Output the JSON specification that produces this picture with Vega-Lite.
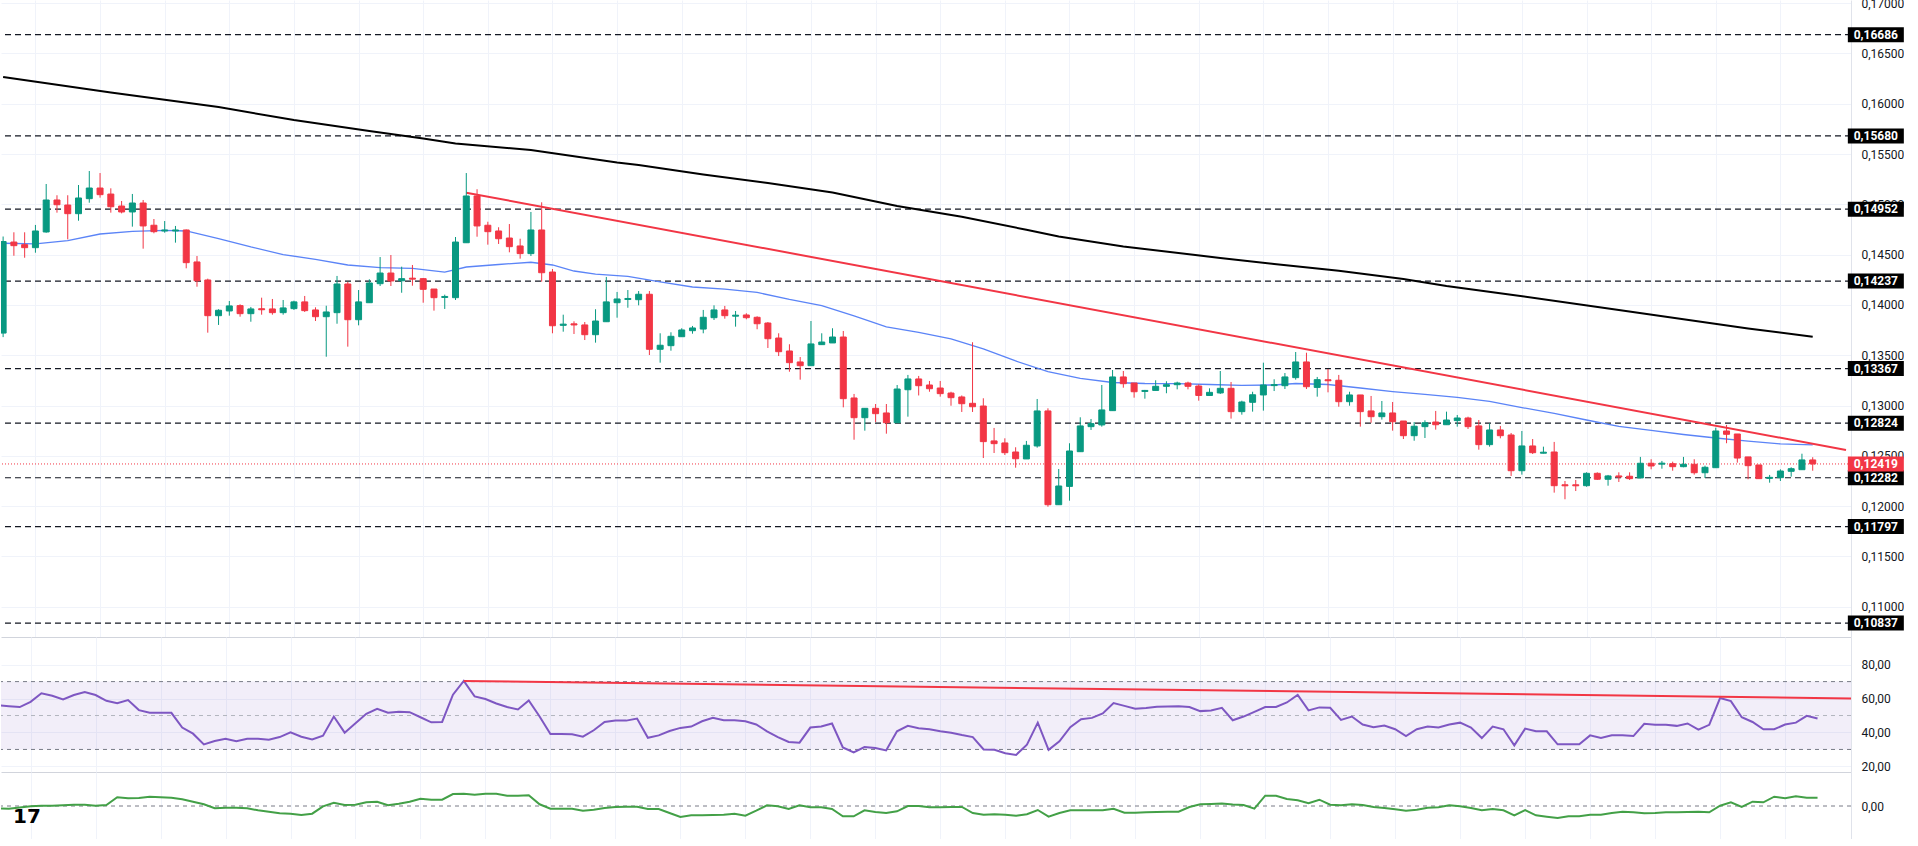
{
  "$schema": "https://vega.github.io/schema/vega-lite/v6.json",
  "description": "Daily candles with 50/200 MAs, support levels, RSI and an oscillator panel.",
  "padding": {"top": -3, "left": 0, "right": 0, "bottom": 0},
  "background": "white",
  "spacing": 0,
  "bounds": "flush",
  "config": {
    "view": {"stroke": null},
    "font": "Roboto",
    "axis": {"labelFont": "Roboto", "labelFontSize": 12, "labelColor": "#131722"}
  },
  "datasets": {
    "candles": [
      {"i":0,"o":0.1372,"h":0.1468,"l":0.1368,"c":0.1463,"r":56.1,"g":-2.3},
      {"i":1,"o":0.14625,"h":0.14722,"l":0.14489,"c":0.14589,"r":55.5,"g":-2.7},
      {"i":2,"o":0.14599,"h":0.14722,"l":0.14469,"c":0.14569,"r":55.0,"g":-1.5},
      {"i":3,"o":0.14569,"h":0.14795,"l":0.14519,"c":0.14735,"r":58.1,"g":-0.3},
      {"i":4,"o":0.14725,"h":0.15202,"l":0.14718,"c":0.15043,"r":63.1,"g":0.3},
      {"i":5,"o":0.15043,"h":0.1509,"l":0.14917,"c":0.14996,"r":61.7,"g":0.3},
      {"i":6,"o":0.14993,"h":0.1509,"l":0.14652,"c":0.14907,"r":59.5,"g":0.8},
      {"i":7,"o":0.14907,"h":0.15192,"l":0.14837,"c":0.15063,"r":62.1,"g":1.3},
      {"i":8,"o":0.15056,"h":0.15331,"l":0.15016,"c":0.15162,"r":63.9,"g":1.3},
      {"i":9,"o":0.15162,"h":0.15311,"l":0.15066,"c":0.15096,"r":62.1,"g":0.3},
      {"i":10,"o":0.15102,"h":0.15159,"l":0.14917,"c":0.14976,"r":58.7,"g":1.0},
      {"i":11,"o":0.14983,"h":0.15033,"l":0.1491,"c":0.14924,"r":57.3,"g":8.7},
      {"i":12,"o":0.14924,"h":0.15103,"l":0.14778,"c":0.15013,"r":59.1,"g":7.7},
      {"i":13,"o":0.15013,"h":0.15043,"l":0.14559,"c":0.14785,"r":53.2,"g":8.0},
      {"i":14,"o":0.14792,"h":0.14854,"l":0.14712,"c":0.14728,"r":51.6,"g":9.3},
      {"i":15,"o":0.14735,"h":0.14834,"l":0.14718,"c":0.14745,"r":51.6,"g":8.7},
      {"i":16,"o":0.14735,"h":0.14785,"l":0.14619,"c":0.14745,"r":51.6,"g":8.3},
      {"i":17,"o":0.14745,"h":0.1475,"l":0.14364,"c":0.1442,"r":42.9,"g":6.7},
      {"i":18,"o":0.14427,"h":0.14486,"l":0.14181,"c":0.1424,"r":39.3,"g":4.3},
      {"i":19,"o":0.14248,"h":0.14261,"l":0.13724,"c":0.13893,"r":33.0,"g":1.7},
      {"i":20,"o":0.13893,"h":0.13957,"l":0.13801,"c":0.13947,"r":35.0,"g":-2.3},
      {"i":21,"o":0.1394,"h":0.14039,"l":0.13893,"c":0.1399,"r":36.3,"g":-1.7},
      {"i":22,"o":0.13993,"h":0.14006,"l":0.13883,"c":0.13913,"r":34.8,"g":-1.7},
      {"i":23,"o":0.13913,"h":0.1398,"l":0.13833,"c":0.1396,"r":36.3,"g":-2.3},
      {"i":24,"o":0.13962,"h":0.14072,"l":0.13903,"c":0.13952,"r":36.3,"g":-4.3},
      {"i":25,"o":0.1396,"h":0.14059,"l":0.13903,"c":0.13923,"r":35.7,"g":-5.7},
      {"i":26,"o":0.13923,"h":0.14049,"l":0.13903,"c":0.1397,"r":37.3,"g":-7.3},
      {"i":27,"o":0.13963,"h":0.14042,"l":0.1395,"c":0.1403,"r":40.1,"g":-7.7},
      {"i":28,"o":0.1403,"h":0.14089,"l":0.1393,"c":0.13943,"r":37.5,"g":-9.0},
      {"i":29,"o":0.1395,"h":0.13976,"l":0.1384,"c":0.13883,"r":35.9,"g":-7.7},
      {"i":30,"o":0.13883,"h":0.13992,"l":0.13485,"c":0.1393,"r":38.1,"g":-0.3},
      {"i":31,"o":0.13923,"h":0.14288,"l":0.13813,"c":0.14208,"r":49.4,"g":3.3},
      {"i":32,"o":0.14208,"h":0.14228,"l":0.13585,"c":0.13853,"r":39.9,"g":1.0},
      {"i":33,"o":0.13853,"h":0.14148,"l":0.13797,"c":0.1403,"r":45.4,"g":1.3},
      {"i":34,"o":0.14022,"h":0.14255,"l":0.14022,"c":0.14218,"r":51.0,"g":3.7},
      {"i":35,"o":0.14211,"h":0.14476,"l":0.14188,"c":0.14317,"r":54.0,"g":4.3},
      {"i":36,"o":0.14317,"h":0.14496,"l":0.14188,"c":0.14238,"r":51.6,"g":0.7},
      {"i":37,"o":0.1424,"h":0.1438,"l":0.14121,"c":0.14261,"r":52.2,"g":2.3},
      {"i":38,"o":0.14266,"h":0.14397,"l":0.14191,"c":0.14256,"r":52.0,"g":4.3},
      {"i":39,"o":0.14261,"h":0.14268,"l":0.14022,"c":0.14155,"r":49.0,"g":7.3},
      {"i":40,"o":0.14158,"h":0.14158,"l":0.13943,"c":0.14072,"r":46.0,"g":6.3},
      {"i":41,"o":0.14074,"h":0.14102,"l":0.1396,"c":0.14084,"r":46.2,"g":6.3},
      {"i":42,"o":0.14072,"h":0.14675,"l":0.14049,"c":0.14625,"r":62.3,"g":12.0},
      {"i":43,"o":0.14618,"h":0.15311,"l":0.14618,"c":0.15083,"r":70.4,"g":12.3},
      {"i":44,"o":0.15083,"h":0.1515,"l":0.14678,"c":0.14785,"r":61.3,"g":11.3},
      {"i":45,"o":0.14792,"h":0.14827,"l":0.14599,"c":0.14728,"r":59.7,"g":12.3},
      {"i":46,"o":0.14735,"h":0.14772,"l":0.14606,"c":0.14658,"r":57.1,"g":12.3},
      {"i":47,"o":0.14665,"h":0.14804,"l":0.14523,"c":0.14579,"r":55.0,"g":10.3},
      {"i":48,"o":0.14586,"h":0.14658,"l":0.1446,"c":0.1451,"r":53.6,"g":10.3},
      {"i":49,"o":0.1451,"h":0.14924,"l":0.14486,"c":0.14745,"r":58.9,"g":10.7},
      {"i":50,"o":0.14745,"h":0.1502,"l":0.14231,"c":0.1432,"r":49.4,"g":1.7},
      {"i":51,"o":0.14327,"h":0.14357,"l":0.13718,"c":0.13793,"r":39.1,"g":-2.7},
      {"i":52,"o":0.13797,"h":0.13903,"l":0.13734,"c":0.13809,"r":39.1,"g":-2.7},
      {"i":53,"o":0.13812,"h":0.13837,"l":0.13711,"c":0.13801,"r":38.9,"g":-2.7},
      {"i":54,"o":0.13801,"h":0.1383,"l":0.13651,"c":0.13704,"r":37.5,"g":-4.7},
      {"i":55,"o":0.13704,"h":0.13957,"l":0.13625,"c":0.1384,"r":41.3,"g":-3.7},
      {"i":56,"o":0.13833,"h":0.14278,"l":0.13833,"c":0.1403,"r":46.2,"g":-2.0},
      {"i":57,"o":0.14022,"h":0.14129,"l":0.13873,"c":0.14059,"r":47.0,"g":-1.0},
      {"i":58,"o":0.14054,"h":0.14148,"l":0.13972,"c":0.14064,"r":47.0,"g":-0.7},
      {"i":59,"o":0.14052,"h":0.14138,"l":0.13996,"c":0.14106,"r":48.2,"g":-0.7},
      {"i":60,"o":0.14106,"h":0.14138,"l":0.13502,"c":0.13559,"r":36.9,"g":-3.0},
      {"i":61,"o":0.13559,"h":0.13718,"l":0.13426,"c":0.13599,"r":38.3,"g":-3.0},
      {"i":62,"o":0.13595,"h":0.13728,"l":0.13545,"c":0.13688,"r":40.9,"g":-7.0},
      {"i":63,"o":0.13684,"h":0.13768,"l":0.13684,"c":0.13751,"r":42.7,"g":-11.0},
      {"i":64,"o":0.13744,"h":0.13791,"l":0.13714,"c":0.13771,"r":43.5,"g":-9.3},
      {"i":65,"o":0.1376,"h":0.1395,"l":0.13718,"c":0.13877,"r":46.6,"g":-9.3},
      {"i":66,"o":0.13873,"h":0.13996,"l":0.1385,"c":0.1395,"r":48.6,"g":-9.0},
      {"i":67,"o":0.1395,"h":0.1399,"l":0.13863,"c":0.13893,"r":47.2,"g":-8.7},
      {"i":68,"o":0.13888,"h":0.1394,"l":0.13784,"c":0.13898,"r":47.2,"g":-7.7},
      {"i":69,"o":0.139,"h":0.13917,"l":0.13857,"c":0.13873,"r":46.6,"g":-9.7},
      {"i":70,"o":0.13877,"h":0.13887,"l":0.13758,"c":0.13813,"r":44.7,"g":-4.7},
      {"i":71,"o":0.1382,"h":0.1383,"l":0.13572,"c":0.13664,"r":40.7,"g":0.7},
      {"i":72,"o":0.13671,"h":0.13718,"l":0.13492,"c":0.13535,"r":37.3,"g":-0.3},
      {"i":73,"o":0.13542,"h":0.13609,"l":0.13336,"c":0.13426,"r":34.4,"g":-3.0},
      {"i":74,"o":0.13433,"h":0.13482,"l":0.13257,"c":0.13396,"r":34.0,"g":0.7},
      {"i":75,"o":0.13396,"h":0.1384,"l":0.13396,"c":0.13612,"r":42.9,"g":-1.3},
      {"i":76,"o":0.13605,"h":0.13718,"l":0.13605,"c":0.13631,"r":43.5,"g":-1.3},
      {"i":77,"o":0.13622,"h":0.13768,"l":0.13622,"c":0.13681,"r":45.3,"g":-3.0},
      {"i":78,"o":0.13681,"h":0.13741,"l":0.12982,"c":0.13068,"r":31.2,"g":-10.3},
      {"i":79,"o":0.13075,"h":0.13115,"l":0.1266,"c":0.12879,"r":28.2,"g":-10.3},
      {"i":80,"o":0.12879,"h":0.12972,"l":0.1275,"c":0.12972,"r":31.4,"g":-4.3},
      {"i":81,"o":0.12972,"h":0.13015,"l":0.12836,"c":0.12919,"r":30.8,"g":-6.0},
      {"i":82,"o":0.12926,"h":0.13015,"l":0.1272,"c":0.12829,"r":29.4,"g":-7.0},
      {"i":83,"o":0.12829,"h":0.13204,"l":0.12829,"c":0.13164,"r":40.7,"g":-5.3},
      {"i":84,"o":0.13157,"h":0.13304,"l":0.12889,"c":0.13264,"r":43.9,"g":0.0},
      {"i":85,"o":0.13264,"h":0.13294,"l":0.131,"c":0.13197,"r":42.5,"g":0.0},
      {"i":86,"o":0.13204,"h":0.13244,"l":0.13137,"c":0.13167,"r":41.9,"g":-1.3},
      {"i":87,"o":0.13174,"h":0.13244,"l":0.13088,"c":0.13118,"r":40.7,"g":-1.3},
      {"i":88,"o":0.13124,"h":0.13137,"l":0.12998,"c":0.13078,"r":39.9,"g":-1.0},
      {"i":89,"o":0.13085,"h":0.131,"l":0.12936,"c":0.13018,"r":38.5,"g":-1.0},
      {"i":90,"o":0.13022,"h":0.13629,"l":0.12936,"c":0.12988,"r":37.3,"g":-7.0},
      {"i":91,"o":0.12995,"h":0.13072,"l":0.12478,"c":0.12641,"r":30.0,"g":-8.7},
      {"i":92,"o":0.12648,"h":0.12777,"l":0.12528,"c":0.12621,"r":29.8,"g":-8.3},
      {"i":93,"o":0.12628,"h":0.12674,"l":0.12508,"c":0.12531,"r":27.8,"g":-8.7},
      {"i":94,"o":0.12538,"h":0.12585,"l":0.12382,"c":0.12471,"r":26.8,"g":-9.7},
      {"i":95,"o":0.12469,"h":0.12648,"l":0.12469,"c":0.12605,"r":32.8,"g":-8.3},
      {"i":96,"o":0.12598,"h":0.13065,"l":0.12581,"c":0.12946,"r":45.8,"g":-4.0},
      {"i":97,"o":0.12946,"h":0.12972,"l":0.11994,"c":0.12014,"r":29.8,"g":-10.7},
      {"i":98,"o":0.12014,"h":0.12369,"l":0.12014,"c":0.122,"r":34.8,"g":-7.0},
      {"i":99,"o":0.12196,"h":0.12625,"l":0.12054,"c":0.12548,"r":43.1,"g":-4.3},
      {"i":100,"o":0.12541,"h":0.12883,"l":0.12541,"c":0.12797,"r":47.8,"g":-4.3},
      {"i":101,"o":0.1279,"h":0.12866,"l":0.12757,"c":0.1282,"r":48.6,"g":-4.3},
      {"i":102,"o":0.12807,"h":0.13204,"l":0.1279,"c":0.12956,"r":51.2,"g":-4.3},
      {"i":103,"o":0.12949,"h":0.13353,"l":0.12949,"c":0.13284,"r":57.3,"g":-2.7},
      {"i":104,"o":0.13284,"h":0.13343,"l":0.13177,"c":0.13217,"r":55.7,"g":-6.7},
      {"i":105,"o":0.13224,"h":0.13224,"l":0.13078,"c":0.13137,"r":54.0,"g":-6.7},
      {"i":106,"o":0.1314,"h":0.13155,"l":0.13068,"c":0.1315,"r":54.4,"g":-6.3},
      {"i":107,"o":0.1315,"h":0.13251,"l":0.1315,"c":0.13191,"r":55.2,"g":-6.0},
      {"i":108,"o":0.13191,"h":0.13241,"l":0.13122,"c":0.13207,"r":55.3,"g":-5.7},
      {"i":109,"o":0.13207,"h":0.13237,"l":0.13161,"c":0.13224,"r":55.5,"g":-5.7},
      {"i":110,"o":0.13224,"h":0.13237,"l":0.13161,"c":0.13191,"r":55.0,"g":-1.0},
      {"i":111,"o":0.13194,"h":0.13211,"l":0.13048,"c":0.131,"r":52.6,"g":1.7},
      {"i":112,"o":0.131,"h":0.13171,"l":0.131,"c":0.13131,"r":53.0,"g":2.0},
      {"i":113,"o":0.13125,"h":0.13343,"l":0.13115,"c":0.13171,"r":54.5,"g":2.5},
      {"i":114,"o":0.13171,"h":0.13234,"l":0.1287,"c":0.12939,"r":47.2,"g":1.5},
      {"i":115,"o":0.12939,"h":0.13048,"l":0.12909,"c":0.13035,"r":49.4,"g":1.0},
      {"i":116,"o":0.13032,"h":0.13137,"l":0.12939,"c":0.13107,"r":52.2,"g":-2.7},
      {"i":117,"o":0.13105,"h":0.13426,"l":0.12949,"c":0.13204,"r":55.0,"g":10.3},
      {"i":118,"o":0.13198,"h":0.13261,"l":0.13144,"c":0.13208,"r":55.0,"g":10.3},
      {"i":119,"o":0.13197,"h":0.13323,"l":0.13164,"c":0.13284,"r":57.7,"g":7.0},
      {"i":120,"o":0.13277,"h":0.13532,"l":0.13257,"c":0.13433,"r":62.1,"g":5.7},
      {"i":121,"o":0.13433,"h":0.13525,"l":0.13164,"c":0.13187,"r":53.0,"g":2.7},
      {"i":122,"o":0.1318,"h":0.13284,"l":0.13088,"c":0.13257,"r":54.8,"g":6.3},
      {"i":123,"o":0.13256,"h":0.13363,"l":0.13131,"c":0.13246,"r":54.6,"g":1.3},
      {"i":124,"o":0.13251,"h":0.13304,"l":0.12988,"c":0.13038,"r":47.4,"g":0.7},
      {"i":125,"o":0.13038,"h":0.13137,"l":0.12998,"c":0.13105,"r":49.4,"g":1.7},
      {"i":126,"o":0.13105,"h":0.13105,"l":0.1279,"c":0.12939,"r":44.7,"g":1.0},
      {"i":127,"o":0.12946,"h":0.13095,"l":0.12829,"c":0.12889,"r":43.1,"g":-1.0},
      {"i":128,"o":0.12889,"h":0.13045,"l":0.1286,"c":0.12926,"r":44.1,"g":-2.0},
      {"i":129,"o":0.12926,"h":0.13035,"l":0.1275,"c":0.12839,"r":41.9,"g":-3.3},
      {"i":130,"o":0.12846,"h":0.12846,"l":0.12667,"c":0.127,"r":37.9,"g":-4.7},
      {"i":131,"o":0.127,"h":0.12836,"l":0.1265,"c":0.12794,"r":41.9,"g":-3.7},
      {"i":132,"o":0.1279,"h":0.12853,"l":0.12677,"c":0.12829,"r":43.5,"g":-1.7},
      {"i":133,"o":0.12836,"h":0.12946,"l":0.1276,"c":0.12809,"r":42.9,"g":-1.3},
      {"i":134,"o":0.12809,"h":0.12939,"l":0.12809,"c":0.12856,"r":44.7,"g":0.7},
      {"i":135,"o":0.1285,"h":0.12906,"l":0.1279,"c":0.12876,"r":45.8,"g":-0.3},
      {"i":136,"o":0.12876,"h":0.12889,"l":0.12767,"c":0.1279,"r":42.9,"g":-2.0},
      {"i":137,"o":0.12797,"h":0.12856,"l":0.12561,"c":0.12611,"r":36.7,"g":-4.3},
      {"i":138,"o":0.12611,"h":0.12823,"l":0.12591,"c":0.12757,"r":43.5,"g":-3.0},
      {"i":139,"o":0.12757,"h":0.12797,"l":0.12674,"c":0.127,"r":41.9,"g":-4.3},
      {"i":140,"o":0.12707,"h":0.12727,"l":0.123,"c":0.12352,"r":32.4,"g":-9.3},
      {"i":141,"o":0.12352,"h":0.12747,"l":0.12313,"c":0.12598,"r":42.3,"g":-4.0},
      {"i":142,"o":0.12598,"h":0.12667,"l":0.12518,"c":0.12531,"r":40.7,"g":-9.3},
      {"i":143,"o":0.12526,"h":0.12591,"l":0.12524,"c":0.12536,"r":40.7,"g":-10.7},
      {"i":144,"o":0.12538,"h":0.12638,"l":0.12134,"c":0.12203,"r":33.0,"g":-12.0},
      {"i":145,"o":0.12212,"h":0.1225,"l":0.12068,"c":0.12202,"r":33.0,"g":-10.3},
      {"i":146,"o":0.12212,"h":0.1226,"l":0.1215,"c":0.12202,"r":33.0,"g":-10.3},
      {"i":147,"o":0.12203,"h":0.12336,"l":0.12193,"c":0.12326,"r":38.3,"g":-8.7},
      {"i":148,"o":0.12326,"h":0.12336,"l":0.1226,"c":0.12267,"r":36.7,"g":-8.7},
      {"i":149,"o":0.12267,"h":0.1231,"l":0.12203,"c":0.123,"r":38.3,"g":-7.0},
      {"i":150,"o":0.123,"h":0.12336,"l":0.1224,"c":0.1229,"r":38.3,"g":-5.7},
      {"i":151,"o":0.12297,"h":0.12336,"l":0.1226,"c":0.12273,"r":37.9,"g":-6.3},
      {"i":152,"o":0.1228,"h":0.12489,"l":0.1228,"c":0.12426,"r":45.1,"g":-7.3},
      {"i":153,"o":0.12426,"h":0.12466,"l":0.12366,"c":0.12399,"r":44.5,"g":-7.0},
      {"i":154,"o":0.12417,"h":0.12449,"l":0.12372,"c":0.12427,"r":44.5,"g":-6.3},
      {"i":155,"o":0.12422,"h":0.12442,"l":0.12352,"c":0.12392,"r":43.9,"g":-6.3},
      {"i":156,"o":0.12392,"h":0.12489,"l":0.12386,"c":0.12416,"r":45.3,"g":-6.0},
      {"i":157,"o":0.12416,"h":0.12466,"l":0.12313,"c":0.12332,"r":41.7,"g":-5.7},
      {"i":158,"o":0.12332,"h":0.12402,"l":0.1228,"c":0.12386,"r":44.5,"g":-6.3},
      {"i":159,"o":0.12382,"h":0.1278,"l":0.12382,"c":0.12747,"r":60.3,"g":0.3},
      {"i":160,"o":0.12747,"h":0.12807,"l":0.12625,"c":0.12714,"r":58.5,"g":3.7},
      {"i":161,"o":0.12717,"h":0.12717,"l":0.12432,"c":0.12478,"r":49.0,"g":-1.0},
      {"i":162,"o":0.12489,"h":0.12489,"l":0.12267,"c":0.12402,"r":46.2,"g":4.3},
      {"i":163,"o":0.12409,"h":0.12409,"l":0.12273,"c":0.12273,"r":41.9,"g":3.7},
      {"i":164,"o":0.12276,"h":0.1231,"l":0.12233,"c":0.12286,"r":41.9,"g":9.3},
      {"i":165,"o":0.12283,"h":0.12366,"l":0.1225,"c":0.12349,"r":44.7,"g":7.7},
      {"i":166,"o":0.12346,"h":0.12386,"l":0.12293,"c":0.12372,"r":45.8,"g":9.7},
      {"i":167,"o":0.12362,"h":0.12521,"l":0.12362,"c":0.12459,"r":49.8,"g":8.3},
      {"i":168,"o":0.12459,"h":0.12486,"l":0.12352,"c":0.12419,"r":48.2,"g":8.3}
    ],
    "ma50": [
      {"i":0,"v":0.14613},{"i":3,"v":0.14606},{"i":6,"v":0.1464},{"i":9,"v":0.14705},{"i":12,"v":0.14732},
      {"i":15,"v":0.1474},{"i":17,"v":0.14735},{"i":20,"v":0.1466},{"i":23,"v":0.14576},{"i":26,"v":0.14501},
      {"i":29,"v":0.14452},{"i":32,"v":0.14397},{"i":35,"v":0.1437},{"i":38,"v":0.14364},{"i":41,"v":0.14327},
      {"i":43,"v":0.14377},{"i":46,"v":0.14402},{"i":49,"v":0.14424},{"i":51,"v":0.14397},{"i":53,"v":0.14337},
      {"i":55,"v":0.14307},{"i":58,"v":0.14283},{"i":61,"v":0.14228},{"i":64,"v":0.14178},{"i":67,"v":0.14158},
      {"i":70,"v":0.14124},{"i":73,"v":0.14054},{"i":76,"v":0.13994},{"i":79,"v":0.1389},{"i":82,"v":0.13781},
      {"i":85,"v":0.13726},{"i":88,"v":0.13662},{"i":91,"v":0.13562},{"i":94,"v":0.13443},{"i":97,"v":0.13338},
      {"i":100,"v":0.13269},{"i":103,"v":0.13229},{"i":106,"v":0.13219},{"i":109,"v":0.13217},{"i":112,"v":0.13209},
      {"i":115,"v":0.13201},{"i":118,"v":0.13204},{"i":120,"v":0.13219},{"i":123,"v":0.13209},{"i":126,"v":0.13174},
      {"i":129,"v":0.13139},{"i":132,"v":0.1311},{"i":135,"v":0.1308},{"i":138,"v":0.13042},{"i":141,"v":0.1298},
      {"i":144,"v":0.12921},{"i":147,"v":0.12856},{"i":150,"v":0.12792},{"i":153,"v":0.12752},{"i":156,"v":0.12712},
      {"i":159,"v":0.12677},{"i":162,"v":0.12647},{"i":165,"v":0.12618},{"i":168,"v":0.12608}
    ],
    "ma200": [
      {"i":0,"v":0.16266},{"i":10,"v":0.16112},{"i":20,"v":0.15967},{"i":27,"v":0.15838},{"i":34,"v":0.15729},
      {"i":39,"v":0.15654},{"i":42,"v":0.15605},{"i":49,"v":0.1554},{"i":57,"v":0.15416},{"i":59,"v":0.15391},
      {"i":65,"v":0.15296},{"i":71,"v":0.15212},{"i":77,"v":0.15118},{"i":83,"v":0.14983},{"i":89,"v":0.14876},
      {"i":95,"v":0.14747},{"i":98,"v":0.1468},{"i":104,"v":0.14581},{"i":113,"v":0.14467},{"i":118,"v":0.14407},
      {"i":124,"v":0.1434},{"i":130,"v":0.14258},{"i":134,"v":0.14188},{"i":140,"v":0.14101},{"i":150,"v":0.1395},
      {"i":162,"v":0.13766},{"i":168,"v":0.13684}
    ],
    "levels": [
      {"price":0.16686},{"price":0.1568},{"price":0.14952},{"price":0.14237},{"price":0.13367},
      {"price":0.12824},{"price":0.12282},{"price":0.11797},{"price":0.10837}
    ],
    "last": [{"price":0.12419}],
    "trend": [{"i":43,"v":0.15116},{"i":171.09,"v":0.12558}],
    "rsiTrend": [{"i":43,"v":70.4},{"i":171.09,"v":60.1}],
    "rsiBand": [{"lo":30,"hi":70}],
    "rsiLines": [{"v":70,"k":"edge"},{"v":50,"k":"mid"},{"v":30,"k":"edge"}]
  },
  "vconcat": [
    {
      "width": 1850,
      "height": 637,
      "layer": [
        {
          "data": {"name": "levels"},
          "mark": {"type": "rule", "color": "#131722", "strokeWidth": 1.2, "strokeDash": [6, 4]},
          "encoding": {
            "y": {
              "field": "price", "type": "quantitative",
              "scale": {"domain": [0.10699, 0.17031], "nice": false, "zero": false},
              "axis": {
                "orient": "right", "title": null,
                "values": [0.11, 0.115, 0.12, 0.125, 0.13, 0.135, 0.14, 0.145, 0.15, 0.155, 0.16, 0.165, 0.17],
                "labelExpr": "replace(format(datum.value, '.5f'), '.', ',')",
                "grid": true, "gridColor": "#f0f3fa", "ticks": false, "tickSize": 0,
                "domain": true, "domainColor": "#e0e3eb", "labelPadding": 10
              }
            }
          }
        },
        {
          "data": {"name": "last"},
          "mark": {"type": "rule", "color": "#f23645", "strokeWidth": 1, "strokeDash": [1, 2]},
          "encoding": {"y": {"field": "price", "type": "quantitative"}}
        },
        {
          "data": {"name": "ma200"},
          "mark": {"type": "line", "color": "#000000", "strokeWidth": 2, "clip": true},
          "encoding": {
            "x": {
              "field": "i", "type": "quantitative",
              "scale": {"domain": [0.268, 171.09], "nice": false, "zero": false},
              "axis": {
                "orient": "bottom", "title": null, "labels": false, "ticks": false,
                "values": [3, 9, 15, 21, 27, 33, 39, 45, 51, 57, 63, 69, 75, 81, 87, 93, 99, 105, 111, 117, 123, 129, 135, 141, 147, 153, 159, 165],
                "grid": true, "gridColor": "#f0f3fa", "domain": true, "domainColor": "#d1d4dc"
              }
            },
            "y": {"field": "v", "type": "quantitative"}
          }
        },
        {
          "data": {"name": "ma50"},
          "mark": {"type": "line", "color": "#5b84f7", "strokeWidth": 1.3, "clip": true},
          "encoding": {
            "x": {"field": "i", "type": "quantitative"},
            "y": {"field": "v", "type": "quantitative"}
          }
        },
        {
          "data": {"name": "trend"},
          "mark": {"type": "line", "color": "#f23645", "strokeWidth": 2, "clip": true},
          "encoding": {
            "x": {"field": "i", "type": "quantitative"},
            "y": {"field": "v", "type": "quantitative"}
          }
        },
        {
          "data": {"name": "candles"},
          "mark": {"type": "rule", "strokeWidth": 1, "clip": true},
          "encoding": {
            "x": {"field": "i", "type": "quantitative"},
            "y": {"field": "l", "type": "quantitative"},
            "y2": {"field": "h"},
            "color": {"condition": {"test": "datum.c >= datum.o", "value": "#089981"}, "value": "#f23645"}
          }
        },
        {
          "data": {"name": "candles"},
          "mark": {"type": "bar", "size": 6, "strokeWidth": 1, "clip": true},
          "encoding": {
            "x": {"field": "i", "type": "quantitative"},
            "y": {"field": "o", "type": "quantitative"},
            "y2": {"field": "c"},
            "color": {"condition": {"test": "datum.c >= datum.o", "value": "#089981"}, "value": "#f23645"},
            "stroke": {"condition": {"test": "datum.c >= datum.o", "value": "#089981"}, "value": "#f23645"}
          }
        },
        {
          "data": {"name": "levels"},
          "mark": {"type": "point", "shape": "M-1,-0.268H1V0.268H-1Z", "size": 3136, "filled": true, "opacity": 1, "color": "#000000"},
          "encoding": {
            "x": {"datum": 173.86, "type": "quantitative"},
            "y": {"field": "price", "type": "quantitative"}
          }
        },
        {
          "data": {"name": "levels"},
          "transform": [{"calculate": "replace(format(datum.price, '.5f'), '.', ',')", "as": "label"}],
          "mark": {"type": "text", "color": "white", "fontSize": 12, "fontWeight": "bold", "font": "Roboto"},
          "encoding": {
            "x": {"datum": 173.86, "type": "quantitative"},
            "y": {"field": "price", "type": "quantitative"},
            "text": {"field": "label"}
          }
        },
        {
          "data": {"name": "last"},
          "mark": {"type": "point", "shape": "M-1,-0.268H1V0.268H-1Z", "size": 3136, "filled": true, "opacity": 1, "color": "#f23645"},
          "encoding": {
            "x": {"datum": 173.86, "type": "quantitative"},
            "y": {"field": "price", "type": "quantitative"}
          }
        },
        {
          "data": {"name": "last"},
          "transform": [{"calculate": "replace(format(datum.price, '.5f'), '.', ',')", "as": "label"}],
          "mark": {"type": "text", "color": "white", "fontSize": 12, "fontWeight": "bold", "font": "Roboto"},
          "encoding": {
            "x": {"datum": 173.86, "type": "quantitative"},
            "y": {"field": "price", "type": "quantitative"},
            "text": {"field": "label"}
          }
        }
      ]
    },
    {
      "width": 1850,
      "height": 135,
      "layer": [
        {
          "data": {"name": "rsiBand"},
          "mark": {"type": "rect", "color": "#7e57c2", "opacity": 0.1},
          "encoding": {
            "y": {
              "field": "lo", "type": "quantitative",
              "scale": {"domain": [16.7, 96.3], "nice": false, "zero": false},
              "axis": {
                "orient": "right", "title": null, "values": [20, 40, 60, 80],
                "labelExpr": "replace(format(datum.value, '.2f'), '.', ',')",
                "grid": true, "gridColor": "#f0f3fa", "ticks": false, "tickSize": 0,
                "domain": true, "domainColor": "#e0e3eb", "labelPadding": 10
              }
            },
            "y2": {"field": "hi"}
          }
        },
        {
          "data": {"name": "rsiLines"},
          "mark": {"type": "rule", "strokeWidth": 1, "strokeDash": [4, 4]},
          "encoding": {
            "y": {"field": "v", "type": "quantitative"},
            "color": {"field": "k", "type": "nominal", "scale": {"domain": ["edge", "mid"], "range": ["#787b86", "#b2b5be"]}, "legend": null}
          }
        },
        {
          "data": {"name": "candles"},
          "mark": {"type": "line", "color": "#7e57c2", "strokeWidth": 2, "clip": true},
          "encoding": {
            "x": {
              "field": "i", "type": "quantitative",
              "scale": {"domain": [0.268, 171.09], "nice": false, "zero": false},
              "axis": {
                "orient": "bottom", "title": null, "labels": false, "ticks": false,
                "values": [3, 9, 15, 21, 27, 33, 39, 45, 51, 57, 63, 69, 75, 81, 87, 93, 99, 105, 111, 117, 123, 129, 135, 141, 147, 153, 159, 165],
                "grid": true, "gridColor": "#f0f3fa", "domain": true, "domainColor": "#d1d4dc"
              }
            },
            "y": {"field": "r", "type": "quantitative"}
          }
        },
        {
          "data": {"name": "rsiTrend"},
          "mark": {"type": "line", "color": "#f23645", "strokeWidth": 2, "clip": true},
          "encoding": {
            "x": {"field": "i", "type": "quantitative"},
            "y": {"field": "v", "type": "quantitative"}
          }
        }
      ]
    },
    {
      "width": 1850,
      "height": 67,
      "layer": [
        {
          "data": {"values": [{"v": 0}]},
          "mark": {"type": "rule", "color": "#787b86", "strokeWidth": 1, "strokeDash": [4, 4]},
          "encoding": {
            "y": {
              "field": "v", "type": "quantitative",
              "scale": {"domain": [-33, 34], "nice": false, "zero": false},
              "axis": {
                "orient": "right", "title": null, "values": [0],
                "labelExpr": "replace(format(datum.value, '.2f'), '.', ',')",
                "grid": false, "ticks": false, "tickSize": 0,
                "domain": true, "domainColor": "#e0e3eb", "labelPadding": 10
              }
            }
          }
        },
        {
          "data": {"name": "candles"},
          "mark": {"type": "line", "color": "#43a047", "strokeWidth": 2, "clip": true},
          "encoding": {
            "x": {
              "field": "i", "type": "quantitative",
              "scale": {"domain": [0.268, 171.09], "nice": false, "zero": false},
              "axis": {
                "orient": "bottom", "title": null, "labels": false, "ticks": false,
                "values": [3, 9, 15, 21, 27, 33, 39, 45, 51, 57, 63, 69, 75, 81, 87, 93, 99, 105, 111, 117, 123, 129, 135, 141, 147, 153, 159, 165],
                "grid": true, "gridColor": "#f0f3fa", "domain": true, "domainColor": "#e0e3eb"
              }
            },
            "y": {"field": "g", "type": "quantitative"}
          }
        },
        {
          "data": {"values": [{"t": "17"}]},
          "mark": {"type": "text", "fontSize": 20, "fontWeight": 900, "font": "DejaVu Sans", "color": "#000000"},
          "encoding": {
            "x": {"datum": 2.67, "type": "quantitative"},
            "y": {"datum": -10.7, "type": "quantitative"},
            "text": {"field": "t"}
          }
        }
      ]
    }
  ]
}
